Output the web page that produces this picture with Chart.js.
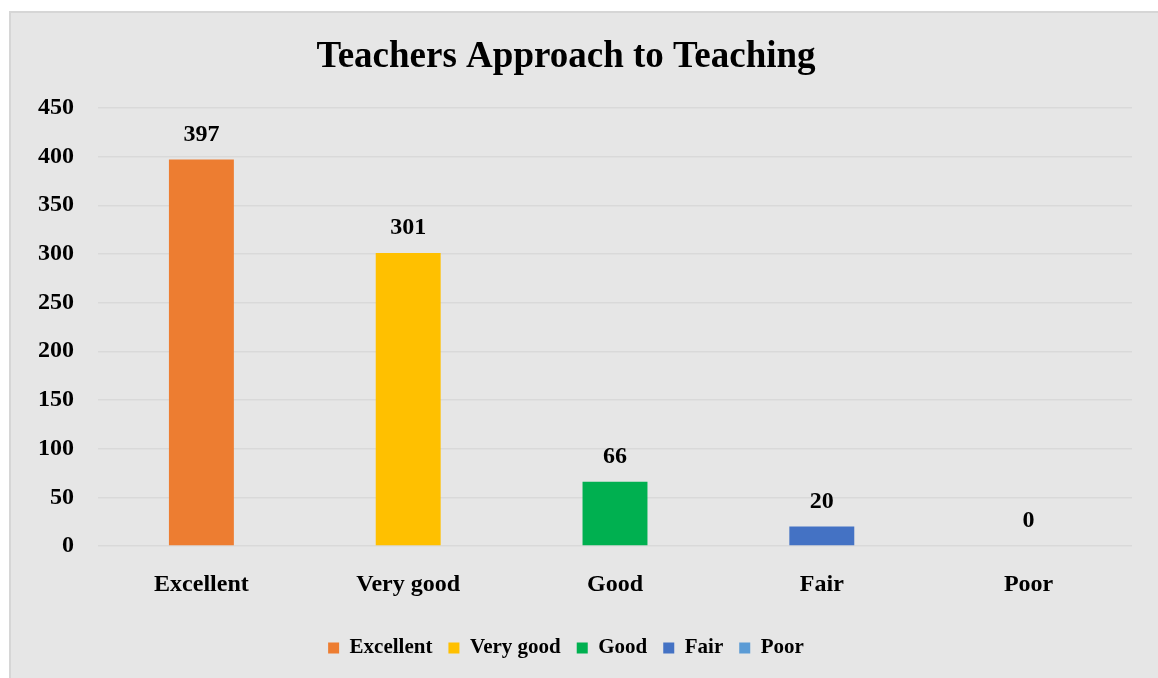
<!DOCTYPE html>
<html>
<head>
<meta charset="utf-8">
<script src="https://cdn.jsdelivr.net/npm/chart.js@4/dist/chart.umd.min.js"></script>
<style>
  html, body { margin: 0; padding: 0; background: #ffffff; }
  #wrap { position: absolute; left: 0; top: 0; width: 1158px; height: 678px; }
</style>
</head>
<body>
<div id="wrap"><canvas id="c" width="1158" height="678"></canvas></div>
<script>
const categories = ["Excellent", "Very good", "Good", "Fair", "Poor"];
const counts = [397, 301, 66, 20, 0];
const barColors = ["#ED7D31", "#FFC000", "#00B050", "#4472C4", "#5B9BD5"];
const yTicks = [0, 50, 100, 150, 200, 250, 300, 350, 400, 450];
const chartTitle = "Teachers Approach to Teaching";

const FONT = '"Liberation Serif", "Times New Roman", serif';

const bgPlugin = {
  id: 'bg',
  beforeDraw(chart) {
    const ctx = chart.ctx;
    ctx.save();
    ctx.fillStyle = '#ffffff';
    ctx.fillRect(0, 0, chart.width, chart.height);
    ctx.fillStyle = '#E6E6E6';
    ctx.fillRect(9, 11, chart.width - 9, chart.height - 11);
    ctx.strokeStyle = '#D6D6D6';
    ctx.lineWidth = 2;
    ctx.beginPath();
    ctx.moveTo(10, chart.height);
    ctx.lineTo(10, 12);
    ctx.lineTo(chart.width, 12);
    ctx.stroke();
    ctx.restore();
  }
};

const labelPlugin = {
  id: 'valueLabels',
  afterDatasetsDraw(chart) {
    const ctx = chart.ctx;
    const meta = chart.getDatasetMeta(0);
    ctx.save();
    ctx.font = 'bold 24px ' + FONT;
    ctx.fillStyle = '#000000';
    ctx.textAlign = 'center';
    ctx.textBaseline = 'middle';
    meta.data.forEach((bar, i) => {
      ctx.fillText(String(counts[i]), bar.x, bar.y - 25);
    });
    ctx.restore();
  }
};

new Chart(document.getElementById('c'), {
  type: 'bar',
  data: {
    labels: categories,
    datasets: [{
      label: 'Count',
      data: counts,
      backgroundColor: barColors,
      borderWidth: 0,
      categoryPercentage: 1.0,
      barPercentage: 0.314
    }]
  },
  options: {
    responsive: false,
    animation: false,
    devicePixelRatio: 1,
    layout: { padding: { left: 0, right: 26, top: 12, bottom: 9.5 } },
    plugins: {
      title: {
        display: true,
        text: chartTitle,
        color: '#000000',
        font: { family: FONT, size: 37, weight: 'bold' },
        padding: { top: 23.5, bottom: 28 }
      },
      legend: {
        display: true,
        position: 'bottom',
        onClick: null,
        labels: {
          color: '#000000',
          font: { family: FONT, size: 21, weight: 'bold' },
          boxWidth: 11,
          boxHeight: 11,
          padding: 16,
          generateLabels(chart) {
            return categories.map((c, i) => ({
              text: c,
              fillStyle: barColors[i],
              strokeStyle: barColors[i],
              lineWidth: 0,
              hidden: false,
              index: i,
              fontColor: '#000000'
            }));
          }
        }
      },
      tooltip: { enabled: false }
    },
    scales: {
      x: {
        grid: { display: false, drawTicks: false },
        border: { display: false },
        ticks: {
          color: '#000000',
          font: { family: FONT, size: 24, weight: 'bold' },
          padding: 24,
          maxRotation: 0
        },
        afterFit(s) { s.height = 75.5; }
      },
      y: {
        min: 0,
        max: 450,
        grid: { color: '#D9D9D9', lineWidth: 1.5, drawTicks: false },
        border: { display: false },
        afterBuildTicks(s) { s.ticks = yTicks.map(v => ({ value: v })); },
        ticks: {
          color: '#000000',
          font: { family: FONT, size: 24, weight: 'bold' },
          padding: 24
        },
        afterFit(s) { s.width = 98; }
      }
    }
  },
  plugins: [bgPlugin, labelPlugin]
});
</script>
</body>
</html>
